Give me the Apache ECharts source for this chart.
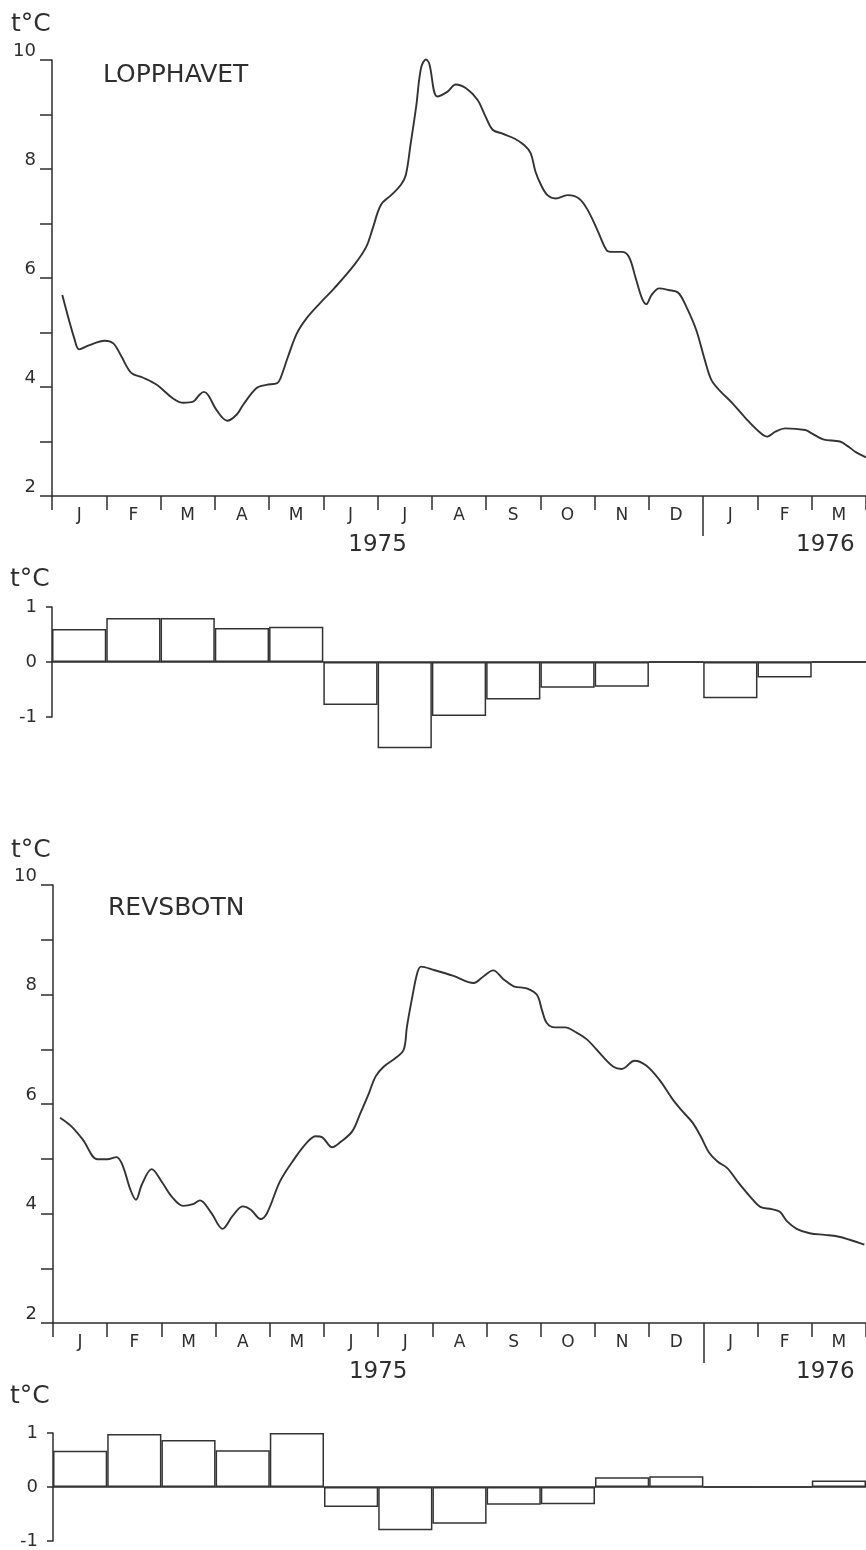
<!DOCTYPE html>
<html>
<head>
<meta charset="utf-8">
<title>Sjøtemperatur 1975–1976</title>
<script src="https://cdn.jsdelivr.net/npm/echarts@6/dist/echarts.min.js"></script>
<style>
  html, body { margin: 0; padding: 0; background: #ffffff; }
  #chart { width: 866px; height: 1550px; }
</style>
</head>
<body>
<div id="chart"></div>
<script>
// Month axis, January 1975 to March 1976
const months = ['J', 'F', 'M', 'A', 'M', 'J', 'J', 'A', 'S', 'O', 'N', 'D', 'J', 'F', 'M'];
// Year captions and where they sit (months counted from 1 Jan 1975)
const yearLabelAt = [6, 14.25];
const yearLabelText = ['1975', '1976'];
const yearBoundary = 12;

// Temperature curves: [months since 1 Jan 1975, °C]
const lopphavetCurve = [
  [0.19, 5.69], [0.42, 4.86], [0.50, 4.69], [0.69, 4.77], [0.97, 4.85], [1.13, 4.80],
  [1.28, 4.56], [1.46, 4.26], [1.68, 4.17], [1.93, 4.04], [2.23, 3.79], [2.42, 3.71],
  [2.60, 3.73], [2.71, 3.85], [2.80, 3.91], [2.88, 3.85], [3.03, 3.58], [3.23, 3.38],
  [3.40, 3.49], [3.52, 3.67], [3.77, 3.98], [3.95, 4.04], [4.15, 4.07], [4.21, 4.16],
  [4.35, 4.56], [4.51, 4.98], [4.69, 5.26], [4.94, 5.54], [5.20, 5.81], [5.57, 6.24],
  [5.79, 6.57], [5.91, 6.91], [6.06, 7.34], [6.25, 7.52], [6.43, 7.71], [6.52, 7.89],
  [6.61, 8.47], [6.71, 9.14], [6.80, 9.85], [6.89, 10.01], [6.95, 9.94], [7.10, 9.33],
  [7.29, 9.42], [7.44, 9.55], [7.63, 9.48], [7.84, 9.27], [7.99, 8.96], [8.12, 8.72],
  [8.30, 8.65], [8.52, 8.56], [8.70, 8.44], [8.82, 8.29], [8.91, 7.95], [9.01, 7.71],
  [9.13, 7.52], [9.28, 7.46], [9.50, 7.52], [9.71, 7.46], [9.87, 7.25], [10.05, 6.88],
  [10.22, 6.51], [10.32, 6.48], [10.50, 6.48], [10.63, 6.39], [10.75, 6.02], [10.87, 5.63],
  [10.95, 5.52], [11.05, 5.69], [11.19, 5.81], [11.36, 5.78], [11.54, 5.73], [11.69, 5.47],
  [11.87, 5.05], [12.02, 4.53], [12.15, 4.13], [12.30, 3.94], [12.54, 3.70], [12.78, 3.43],
  [13.03, 3.18], [13.18, 3.09], [13.33, 3.18], [13.51, 3.24], [13.88, 3.21], [14.00, 3.15],
  [14.21, 3.04], [14.52, 3.00], [14.67, 2.91], [14.82, 2.80], [15.00, 2.71]
];

const revsbotnCurve = [
  [0.13, 5.75], [0.33, 5.60], [0.55, 5.35], [0.82, 4.99], [1.00, 4.99], [1.17, 5.03],
  [1.28, 4.89], [1.43, 4.43], [1.53, 4.25], [1.64, 4.53], [1.82, 4.81], [2.00, 4.59],
  [2.19, 4.31], [2.40, 4.14], [2.58, 4.17], [2.71, 4.24], [2.92, 4.01], [3.13, 3.72],
  [3.31, 3.95], [3.50, 4.13], [3.65, 4.07], [3.83, 3.90], [3.95, 4.01], [4.19, 4.59],
  [4.44, 4.98], [4.68, 5.29], [4.85, 5.41], [4.97, 5.39], [5.15, 5.21], [5.31, 5.31],
  [5.52, 5.50], [5.67, 5.83], [5.83, 6.20], [5.95, 6.50], [6.10, 6.68], [6.32, 6.84],
  [6.47, 6.99], [6.53, 7.41], [6.63, 7.96], [6.72, 8.39], [6.79, 8.51], [7.02, 8.45],
  [7.39, 8.34], [7.76, 8.21], [7.94, 8.33], [8.12, 8.44], [8.31, 8.28], [8.50, 8.15],
  [8.74, 8.11], [8.93, 7.99], [9.02, 7.72], [9.11, 7.48], [9.26, 7.40], [9.45, 7.40],
  [9.63, 7.32], [9.85, 7.18], [10.15, 6.86], [10.34, 6.68], [10.49, 6.64], [10.73, 6.79],
  [10.95, 6.70], [11.19, 6.44], [11.43, 6.09], [11.62, 5.86], [11.80, 5.66], [11.95, 5.41],
  [12.10, 5.12], [12.26, 4.95], [12.44, 4.83], [12.65, 4.56], [12.87, 4.30], [13.05, 4.12],
  [13.26, 4.08], [13.41, 4.03], [13.54, 3.86], [13.72, 3.72], [13.96, 3.64], [14.24, 3.61],
  [14.48, 3.58], [14.70, 3.52], [14.97, 3.43]
];

// Monthly temperature anomalies, °C
const lopphavetAnomaly = [0.6, 0.8, 0.8, 0.62, 0.64, -0.78, -1.57, -0.98, -0.68, -0.47, -0.45, 0, -0.66, -0.28, 0];
const revsbotnAnomaly  = [0.67, 0.98, 0.87, 0.68, 1.0, -0.37, -0.8, -0.68, -0.33, -0.32, 0.18, 0.2, 0, 0, 0.12];

const INK = '#2e2e2e';
const FONT = 'DejaVu Sans';

const chart = echarts.init(document.getElementById('chart'), null, { renderer: 'canvas' });

// Month letters between the month boundary ticks
function monthAxis(gridIndex) {
  return {
    type: 'category', gridIndex, data: months, position: 'bottom',
    boundaryGap: true,
    axisLine: { show: true, onZero: false, lineStyle: { color: INK, width: 1.5 } },
    axisTick: { show: true, length: 14, inside: false, lineStyle: { color: INK, width: 1.5 } },
    axisLabel: { interval: 0, margin: 11, color: INK, fontFamily: FONT, fontSize: 17 },
    splitLine: { show: false }
  };
}
// Continuous time axis carrying the curve, the year captions and the year divider
function yearAxis(gridIndex) {
  return {
    type: 'value', gridIndex, min: 0, max: 15, position: 'bottom',
    axisLine: { show: false, onZero: false },
    axisTick: { show: true, customValues: [yearBoundary], length: 40, lineStyle: { color: INK, width: 1.5 } },
    splitLine: { show: false },
    axisLabel: {
      customValues: yearLabelAt,
      margin: 38, color: INK, fontFamily: FONT, fontSize: 23,
      formatter: v => {
        const i = yearLabelAt.indexOf(v);
        return i >= 0 ? yearLabelText[i] : '';
      }
    }
  };
}
function barXAxis(gridIndex) {
  return {
    type: 'category', gridIndex, data: months, boundaryGap: true,
    axisLine: { show: true, onZero: true, lineStyle: { color: INK, width: 1.5 } },
    axisTick: { show: false }, axisLabel: { show: false }, splitLine: { show: false }
  };
}
function tempYAxis(gridIndex) {
  return {
    type: 'value', gridIndex, min: 2, max: 10, interval: 1,
    axisLine: { show: true, lineStyle: { color: INK, width: 1.5 } },
    axisTick: { show: true, length: 12, lineStyle: { color: INK, width: 1.5 } },
    axisLabel: {
      margin: 16, color: INK, fontFamily: FONT, fontSize: 18, verticalAlign: 'bottom',
      formatter: v => (v % 2 === 0 ? String(v) : '')
    },
    splitLine: { show: false }
  };
}
function anomalyYAxis(gridIndex) {
  return {
    type: 'value', gridIndex, min: -1, max: 1, interval: 1,
    axisLine: { show: true, onZero: false, lineStyle: { color: INK, width: 1.5 } },
    axisTick: { show: true, length: 6, lineStyle: { color: INK, width: 1.5 } },
    axisLabel: { margin: 15, color: INK, fontFamily: FONT, fontSize: 18 },
    splitLine: { show: false }
  };
}
function curveSeries(xAxisIndex, yAxisIndex, data) {
  return {
    type: 'line', xAxisIndex, yAxisIndex, data, smooth: 0.35, showSymbol: false,
    clip: false, silent: true,
    lineStyle: { color: '#333', width: 1.9 }
  };
}
function anomalySeries(xAxisIndex, yAxisIndex, data) {
  return {
    type: 'bar', xAxisIndex, yAxisIndex, data, barWidth: '100%', barCategoryGap: '0%',
    clip: false, silent: true,
    itemStyle: { color: 'rgba(0,0,0,0)', borderColor: '#333', borderWidth: 1.5 }
  };
}
function caption(text, x, y, size) {
  return {
    type: 'text', x, y, silent: true,
    style: { text, fill: INK, fontFamily: FONT, fontSize: size, verticalAlign: 'middle' }
  };
}

chart.setOption({
  animation: false,
  backgroundColor: '#ffffff',
  grid: [
    { left: 52, right: 0, top: 60, height: 436 },
    { left: 52, right: 0, top: 607, height: 110 },
    { left: 53, right: 0, top: 885, height: 438 },
    { left: 53, right: 0, top: 1433, height: 110 }
  ],
  xAxis: [
    monthAxis(0), yearAxis(0),
    barXAxis(1),
    monthAxis(2), yearAxis(2),
    barXAxis(3)
  ],
  yAxis: [tempYAxis(0), anomalyYAxis(1), tempYAxis(2), anomalyYAxis(3)],
  series: [
    curveSeries(1, 0, lopphavetCurve),
    anomalySeries(2, 1, lopphavetAnomaly),
    curveSeries(4, 2, revsbotnCurve),
    anomalySeries(5, 3, revsbotnAnomaly)
  ],
  graphic: [
    caption('t°C', 11, 24, 25),
    caption('LOPPHAVET', 103, 75, 25),
    caption('t°C', 10, 579, 25),
    caption('t°C', 11, 850, 25),
    caption('REVSBOTN', 108, 908, 25),
    caption('t°C', 10, 1396, 25)
  ]
});
</script>
</body>
</html>
